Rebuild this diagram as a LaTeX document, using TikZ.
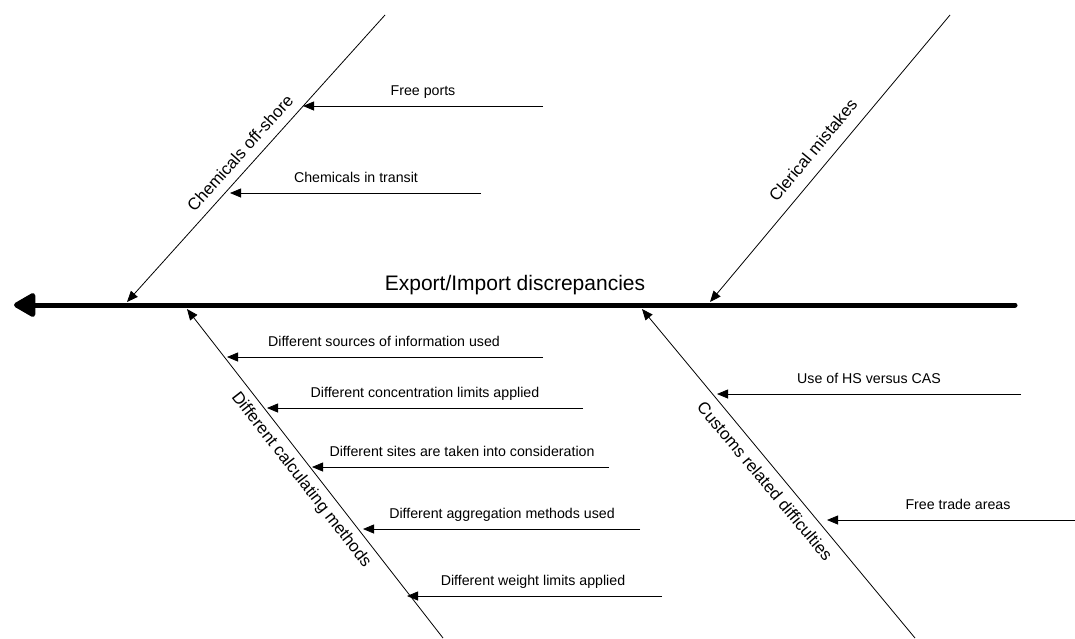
\documentclass[tikz,border=0pt]{standalone}
\usepackage{fontspec}
\setmainfont{Liberation Sans}
\usetikzlibrary{arrows.meta}
\begin{document}
\begin{tikzpicture}[x=1pt,y=-1pt,
  spine/.style={line width=5pt,line cap=round,-{Triangle[length=24pt,width=26pt,round]}},
  branch/.style={line width=0.8pt,-{Triangle[length=11pt,width=9pt]}},
  cause/.style={line width=0.8pt,-{Triangle[length=11pt,width=9pt]}},
  small/.style={font=\fontsize{14.2}{16}\selectfont,anchor=base,inner sep=0pt},
  big/.style={font=\fontsize{21}{24}\selectfont,anchor=base,inner sep=0pt},
  blabel/.style={font=\fontsize{16.8}{19}\selectfont,inner sep=0pt}]
\useasboundingbox (0,0) rectangle (1075,638);
% spine
\coordinate (spR) at (1015,305);
\coordinate (spL) at (14,305);
\draw[spine] (spR) -- (spL);
\node[big] (title) at (515,290) {Export/Import discrepancies};
% branches
\coordinate (b1top) at (385,15);   \coordinate (b1tip) at (127,302);
\coordinate (b2top) at (950,15);   \coordinate (b2tip) at (710,302);
\coordinate (b3bot) at (443,638);  \coordinate (b3tip) at (187,309);
\coordinate (b4bot) at (915,638);  \coordinate (b4tip) at (642,309);
\draw[branch] (b1top) -- (b1tip);
\draw[branch] (b2top) -- (b2tip);
\draw[branch] (b3bot) -- (b3tip);
\draw[branch] (b4bot) -- (b4tip);
\node[blabel,rotate=48.1] (l1) at (240,153) {Chemicals off-shore};
\node[blabel,rotate=50.2] (l2) at (813,150) {Clerical mistakes};
\node[blabel,rotate=-52.1] (l3) at (301,480) {Different calculating methods};
\node[blabel,rotate=-50.1] (l4) at (765,481) {Customs related difficulties};
% causes
\foreach \n/\sx/\y/\tx/\cx/\txt in {
  fp/543/106/303/423/{Free ports},
  ct/481/193/230/356/{Chemicals in transit},
  da/543/357/227/384/{Different sources of information used},
  db/583/408/267/425/{Different concentration limits applied},
  dc/609/467/312/462/{Different sites are taken into consideration},
  dd/640/529/363/502/{Different aggregation methods used},
  de/662/596/407/533/{Different weight limits applied},
  hs/1021/394/717/869/{Use of HS versus CAS},
  ft/1075/520/827/958/{Free trade areas}}{
  \coordinate (\n s) at (\sx,\y);
  \coordinate (\n t) at (\tx,\y);
  \draw[cause] (\n s) -- (\n t);
  \node[small] (\n l) at (\cx,\y-11) {\txt};
}
\end{tikzpicture}
\end{document}
